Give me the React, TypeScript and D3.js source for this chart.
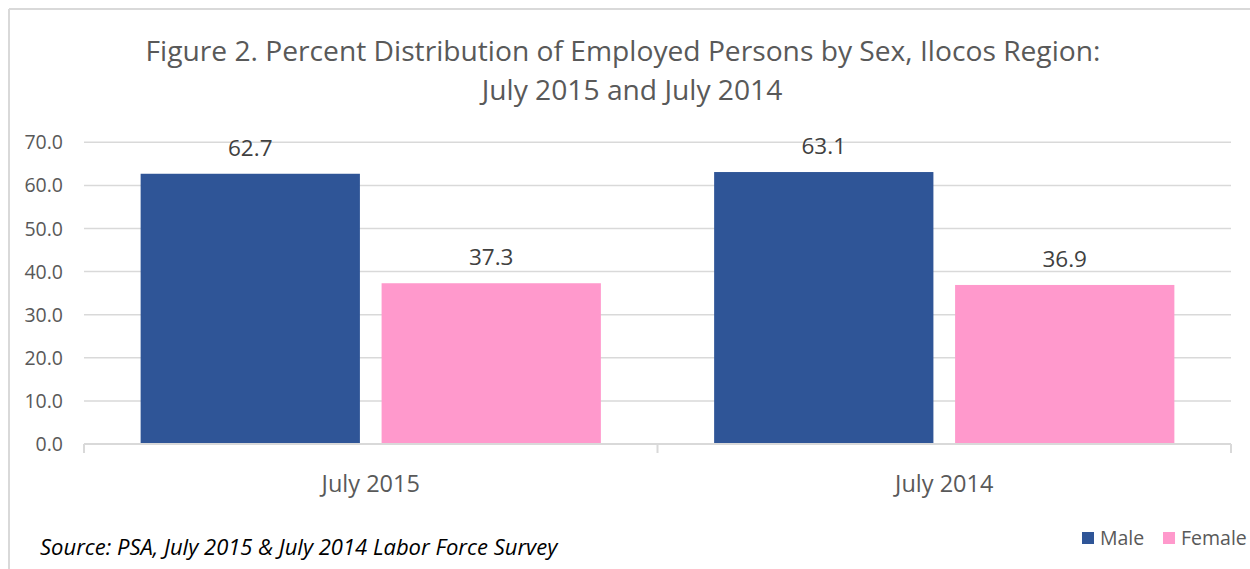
import React from "react";
import * as d3 from "d3";

const categories = ["July 2015", "July 2014"];
const seriesNames = ["Male", "Female"];
const maleValues = [62.7, 63.1];
const femaleValues = [37.3, 36.9];
const yTicks = [0, 10, 20, 30, 40, 50, 60, 70];
const colors = ["#2F5597", "#FF99CC"];

const W = 1250;
const H = 569;
const FONT = "'Open Sans', sans-serif";

export default function App() {
  const left = 84, right = 1231, top = 142.3, bottom = 444;
  const x = d3.scaleBand<string>().domain(categories).range([left, right]).paddingInner(0).paddingOuter(0);
  const y = d3.scaleLinear().domain([0, 70]).range([bottom, top]);
  const inner = d3.scaleBand<string>().domain(seriesNames).range([0, x.bandwidth()]).paddingInner(0.09).paddingOuter(0.235);
  const series = [maleValues, femaleValues];

  return (
    <svg width={W} height={H} style={{ position: "absolute", left: 0, top: 0, background: "#fff" }}>
      <line x1={9} y1={9} x2={W} y2={9} stroke="#d9d9d9" strokeWidth={2} />
      <line x1={9} y1={9} x2={9} y2={H} stroke="#d9d9d9" strokeWidth={2} />
      <text x={623} y={61} textAnchor="middle" fontFamily={FONT} fontSize={28.2} fill="#595959">
        Figure 2. Percent Distribution of Employed Persons by Sex, Ilocos Region:
      </text>
      <text x={632} y={100} textAnchor="middle" fontFamily={FONT} fontSize={28.2} fill="#595959">
        July 2015 and July 2014
      </text>
      {yTicks.map((t) => (
        <g key={t}>
          {t > 0 && <line x1={left} x2={right} y1={y(t)} y2={y(t)} stroke="#d9d9d9" strokeWidth={1.5} />}
          <text x={63} y={y(t) + 7} textAnchor="end" fontFamily={FONT} fontSize={19.5} fill="#595959">
            {t.toFixed(1)}
          </text>
        </g>
      ))}
      {series.map((vals, si) =>
        categories.map((c, ci) => {
          const bx = (x(c) as number) + (inner(seriesNames[si]) as number);
          const by = y(vals[ci]);
          return (
            <g key={`${si}-${ci}`}>
              <rect x={bx} y={by} width={inner.bandwidth()} height={bottom - by} fill={colors[si]} />
              <text x={bx + inner.bandwidth() / 2} y={by - 18} textAnchor="middle" fontFamily={FONT} fontSize={22.5} fill="#404040">
                {vals[ci].toFixed(1)}
              </text>
            </g>
          );
        })
      )}
      <line x1={left} x2={right} y1={bottom} y2={bottom} stroke="#d9d9d9" strokeWidth={2} />
      {[left, left + x.bandwidth(), right].map((tx, i) => (
        <line key={i} x1={tx} x2={tx} y1={bottom} y2={bottom + 9} stroke="#d9d9d9" strokeWidth={2} />
      ))}
      {categories.map((c) => (
        <text key={c} x={(x(c) as number) + x.bandwidth() / 2} y={492} textAnchor="middle" fontFamily={FONT} fontSize={23.5} fill="#595959">
          {c}
        </text>
      ))}
      <text x={40} y={555} fontFamily={FONT} fontStyle="italic" fontSize={22} fill="#000">
        Source: PSA, July 2015 &amp; July 2014 Labor Force Survey
      </text>
      {seriesNames.map((s, i) => {
        const lx = i === 0 ? 1082 : 1163;
        return (
          <g key={s}>
            <rect x={lx} y={532} width={12} height={12} fill={colors[i]} />
            <text x={lx + 18} y={545} fontFamily={FONT} fontSize={19.5} fill="#595959">
              {s}
            </text>
          </g>
        );
      })}
    </svg>
  );
}
